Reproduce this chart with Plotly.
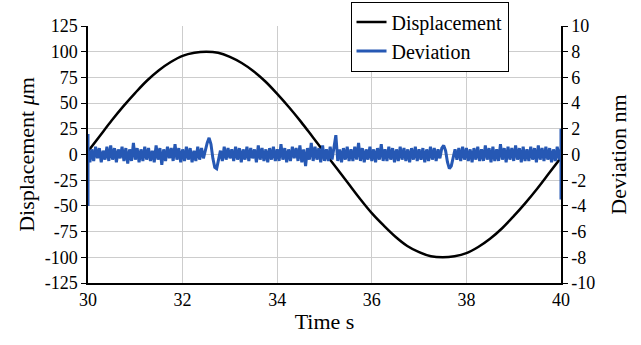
import numpy as np
import plotly.graph_objects as go

# Displacement (µm) sampled every 0.25 s from 30 s to 40 s
disp_time = [30.0 + 0.25 * i for i in range(41)]
displacement = [
    3, 18, 33, 47, 60, 72, 82, 90, 96, 99,
    100, 99, 95, 89, 81, 71, 59, 46, 32, 17,
    2, -13, -28, -43, -57, -69, -80, -89, -95, -99,
    -100, -99, -96, -90, -82, -72, -60, -47, -33, -18,
    -3,
]

# Deviation (nm) sampled every 0.04 s from 30 s to 40 s
dev_samples = [
    0.5, -0.6, 0.4, -0.5, 0.6, -0.3, 0.5, -0.6, 0.3, -0.4,
    0.6, -0.5, 0.7, -0.4, 0.5, -0.6, 0.4, -0.3, 0.6, -0.5,
    0.5, -0.7, 0.4, -0.5, 0.9, -0.4, 0.5, -0.6, 0.4, -0.5,
    0.6, -0.4, 0.5, -0.5, 0.3, -0.6, 0.7, -0.4, 0.5, -0.8,
    0.4, -0.5, 0.6, -0.3, 0.5, -0.5, 0.8, -0.4, 0.5, -0.6,
    0.4, -0.5, 0.6, -0.4, 0.5, -0.6, 0.3, -0.5, 0.6, -0.4,
    0.5, -0.3, 0.4, 0.9, 1.3, 0.8, -0.3, -1.0, -1.1, -0.5,
    0.3, -0.5, 0.6, -0.4, 0.5, -0.3, 0.4, -0.5, 0.6, -0.4,
    0.5, -0.6, 0.4, -0.4, 0.6, -0.5, 0.5, -0.3, 0.4, -0.6,
    0.7, -0.4, 0.5, -0.5, 0.4, -0.6, 0.5, -0.4, 0.6, -0.5,
    0.4, -0.5, 0.8, -0.4, 0.5, -0.6, 0.4, -0.5, 0.6, -0.3,
    0.5, -0.5, 0.7, -0.6, 0.4, -0.9, 0.5, -0.4, 0.9, -0.5,
    0.6, -0.4, 0.5, -0.6, 0.7, -0.5, 0.4, -0.5, 0.6, -0.4,
    0.5, 1.5, -0.5, 0.4, -0.6, 0.5, -0.4, 0.6, -0.5, 0.4,
    -0.5, 0.6, -0.4, 0.9, -0.5, 0.5, -0.6, 0.4, -0.4, 0.6,
    -0.5, 0.4, -0.6, 0.5, -0.4, 0.8, -0.5, 0.4, -0.5, 0.6,
    -0.4, 0.5, -0.6, 0.4, -0.5, 0.6, -0.4, 0.5, -0.5, 0.4,
    -0.6, 0.5, -0.4, 0.6, -0.5, 0.4, -0.4, 0.5, -0.6, 0.4,
    -0.5, 0.6, -0.4, 0.5, -0.5, 0.4, -0.3, 0.5, 0.7, 0.3,
    -0.6, -1.1, -0.9, -0.2, 0.4, -0.4, 0.5, -0.5, 0.6, -0.4,
    0.5, -0.5, 0.4, -0.6, 0.5, -0.4, 0.6, -0.5, 0.4, -0.5,
    0.7, -0.4, 0.5, -0.6, 0.6, -0.5, 0.4, -0.5, 0.8, -0.4,
    0.5, -0.6, 0.6, -0.4, 0.5, -0.5, 0.7, -0.4, 0.5, -0.6,
    0.6, -0.5, 0.4, -0.5, 0.6, -0.4, 0.5, -0.6, 0.7, -0.4,
    0.5, -0.5, 0.6, -0.4, 0.5, -0.6, 0.4, -0.5, 0.6, -0.4,
    0.5,
]
dev_time = [round(30.0 + 0.04 * i, 2) for i in range(len(dev_samples))]

# Transients at the start and end of the record
dev_start = [1.6, -4.0]
dev_end = [2.0, -3.5]

dev_t = [30.0, 30.0] + dev_time + [40.0, 40.0]
dev_v = dev_start + dev_samples + dev_end

# Tick positions and labels (plain hyphen for negatives)
x_ticks = [30, 32, 34, 36, 38, 40]
y_ticks = [125, 100, 75, 50, 25, 0, -25, -50, -75, -100, -125]
y2_ticks = [10, 8, 6, 4, 2, 0, -2, -4, -6, -8, -10]

FONT = "Liberation Serif"
BLUE = "rgb(38,88,180)"

fig = go.Figure()
fig.add_trace(go.Scatter(
    x=disp_time, y=displacement, name="Displacement", mode="lines",
    line=dict(color="black", width=2.5, shape="spline"),
))
fig.add_trace(go.Scatter(
    x=dev_t, y=dev_v, name="Deviation", mode="lines", yaxis="y2",
    line=dict(color=BLUE, width=3),
))

fig.update_layout(
    width=641, height=345,
    margin=dict(l=88, r=80, t=26, b=62, autoexpand=False),
    paper_bgcolor="white", plot_bgcolor="white",
    font=dict(family=FONT, size=18, color="black"),
    showlegend=True,
    legend=dict(
        x=0.555, y=1.095, xanchor="left", yanchor="top",
        bgcolor="white", bordercolor="black", borderwidth=1,
        font=dict(family=FONT, size=20, color="black"),
        tracegroupgap=0, itemwidth=30,
    ),
    xaxis=dict(
        range=[30, 40],
        tickvals=x_ticks, ticktext=[str(v) for v in x_ticks],
        showgrid=True, gridcolor="rgb(205,205,205)", gridwidth=1,
        showline=True, linecolor="black", linewidth=1.5,
        ticks="", zeroline=False,
        title=dict(text="Time s", standoff=4),
    ),
    yaxis=dict(
        range=[-125, 125],
        tickvals=y_ticks, ticktext=[str(v) for v in y_ticks],
        showgrid=True, gridcolor="rgb(205,205,205)", gridwidth=1,
        showline=True, linecolor="black", linewidth=1.5,
        ticks="outside", ticklen=5, tickcolor="black",
        zeroline=False,
        title=dict(text="Displacement <i>μ</i>m", standoff=4),
    ),
    yaxis2=dict(
        range=[-10, 10], overlaying="y", side="right",
        tickvals=y2_ticks, ticktext=[str(v) for v in y2_ticks],
        showgrid=False, showline=True, linecolor="black", linewidth=1.5,
        ticks="outside", ticklen=5, tickcolor="black",
        zeroline=False,
        title=dict(text="Deviation nm", standoff=16),
    ),
)

fig.write_html("out.html")
